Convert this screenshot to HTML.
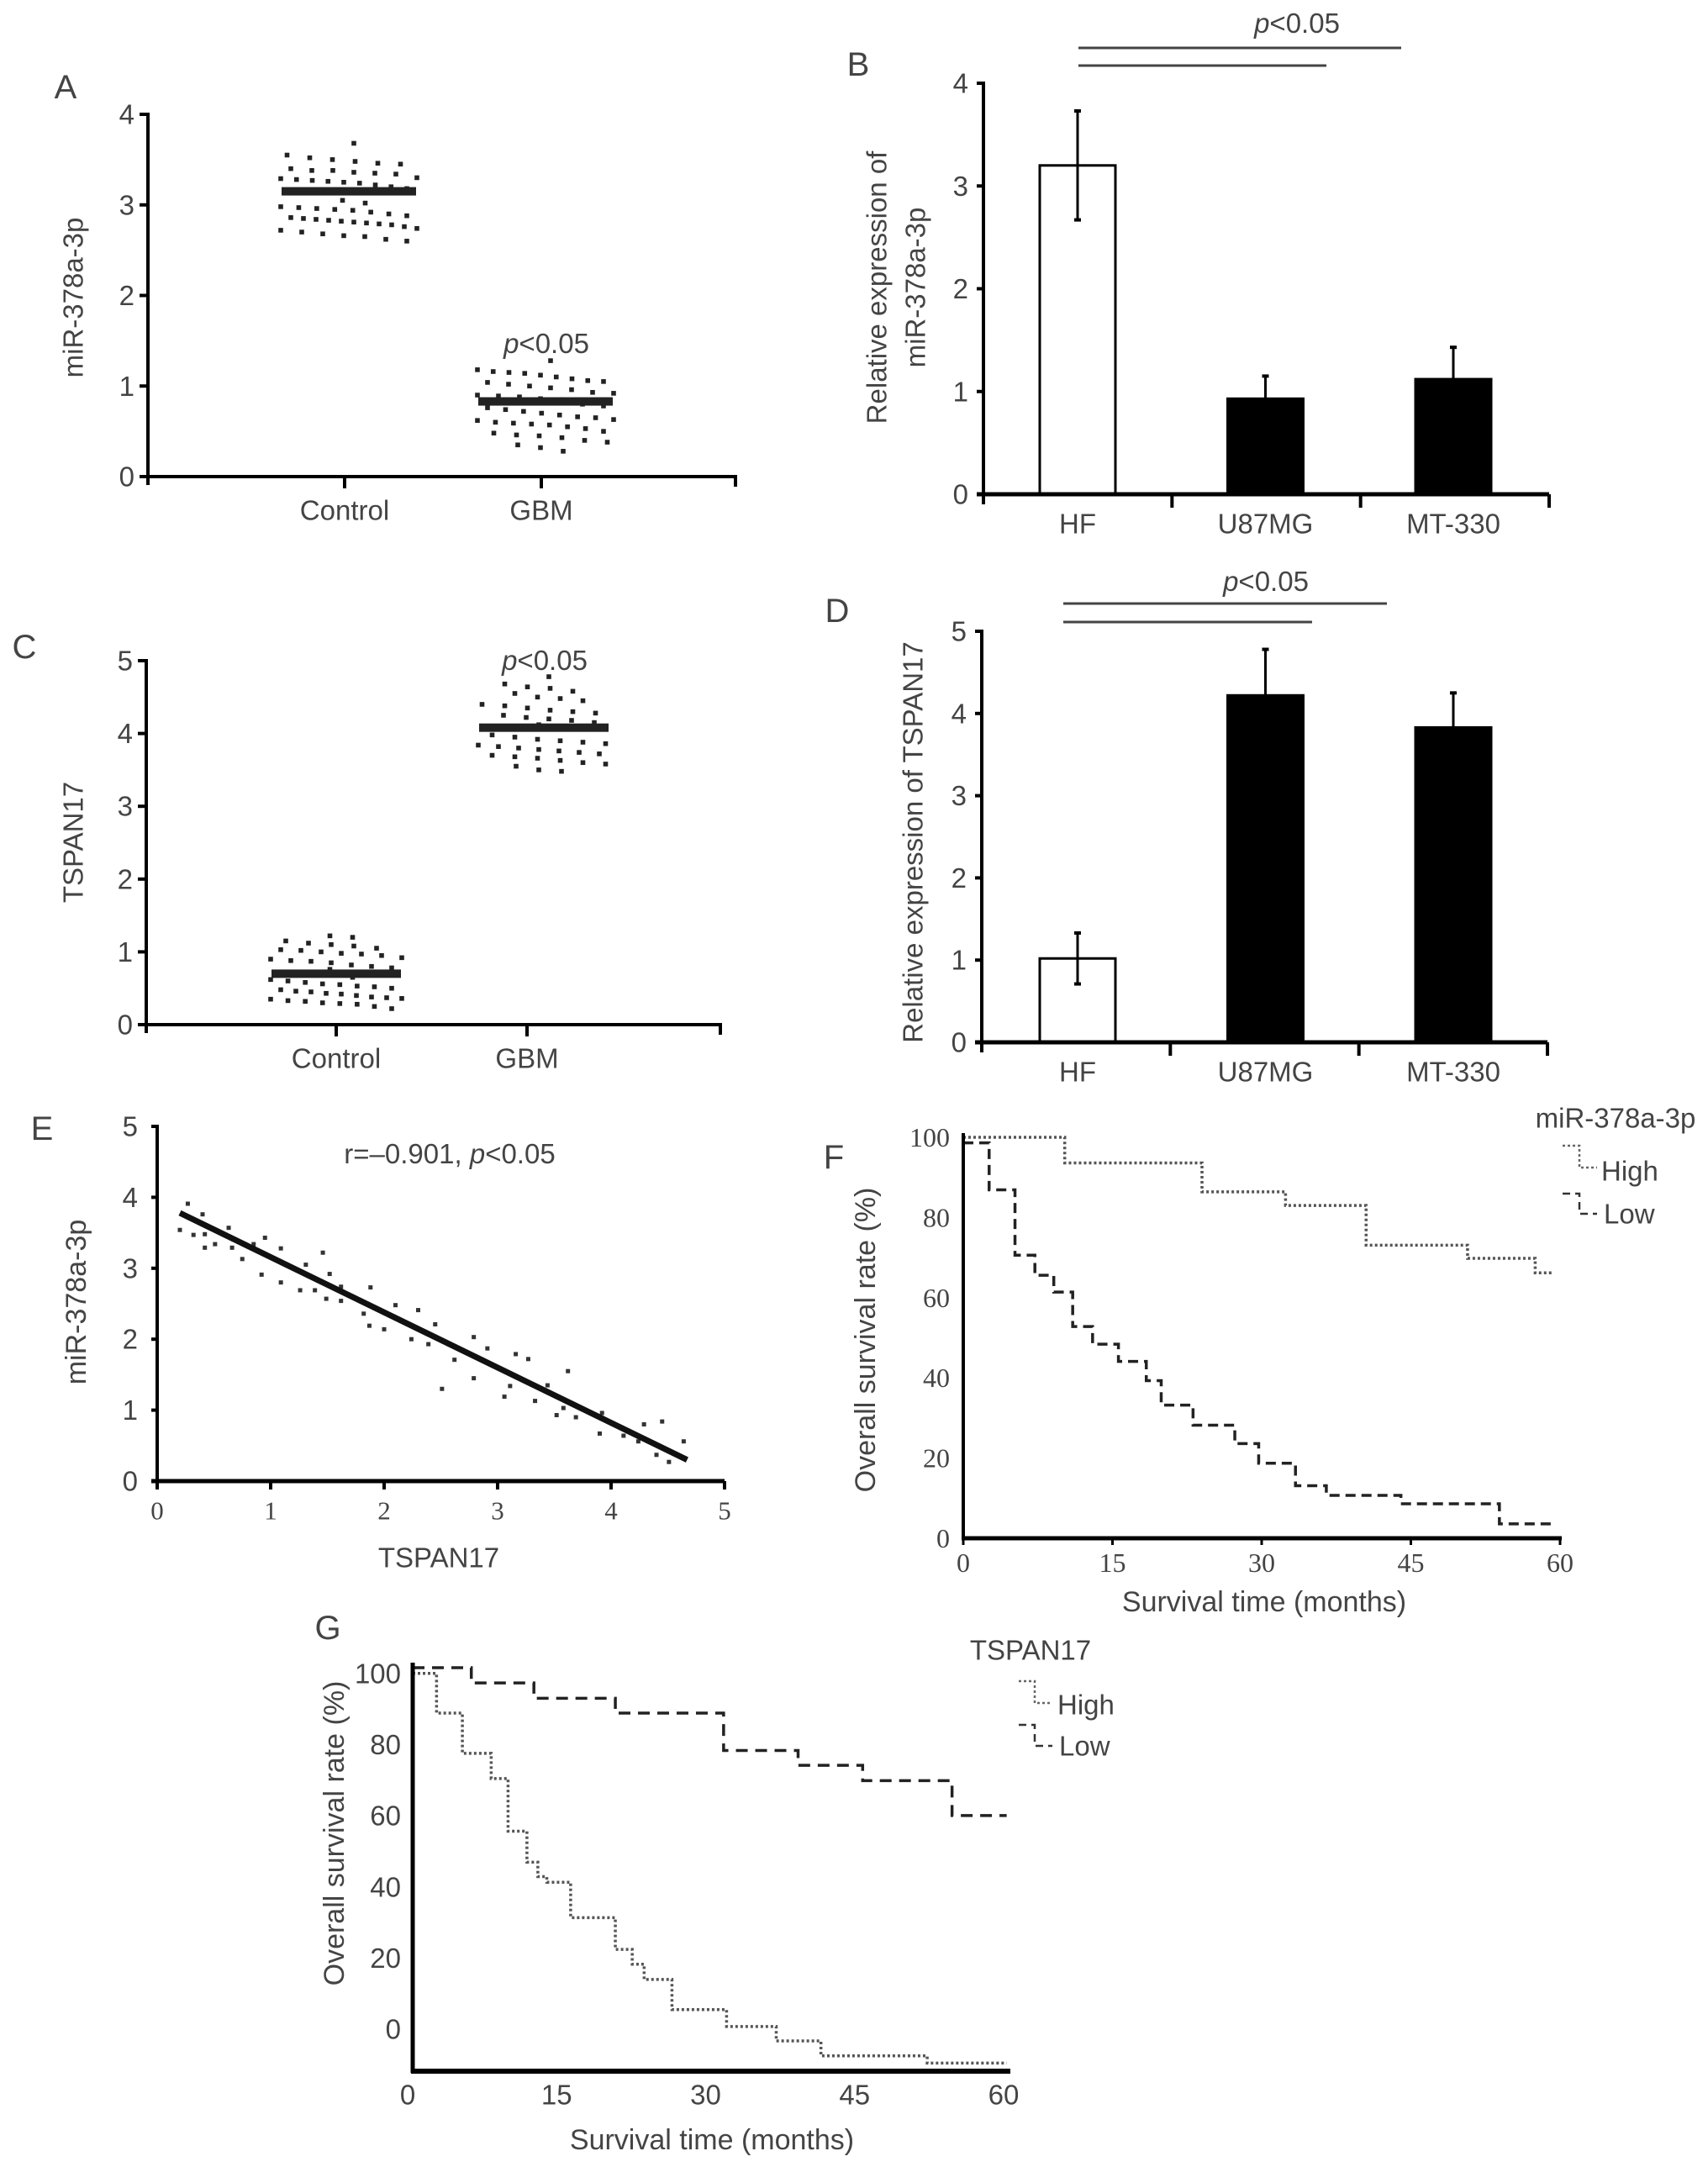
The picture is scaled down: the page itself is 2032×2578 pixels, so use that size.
<!DOCTYPE html>
<html><head><meta charset="utf-8"><title>Figure panels A–G</title>
<style>
html,body{margin:0;padding:0;background:#fff;}
svg{display:block;}
text{font-family:"Liberation Sans",sans-serif;fill:#444;}
.serif{font-family:"Liberation Serif",serif;}
</style></head>
<body>
<svg id="fig" xmlns="http://www.w3.org/2000/svg" width="2032" height="2578" viewBox="0 0 2032 2578"></svg>
<script>
// ---------- DATA ----------
const aCategories = ["Control","GBM"];
const aControl = [3.68,3.55,3.52,3.50,3.48,3.46,3.45,3.40,3.38,3.38,3.36,3.35,3.34,3.30,3.29,3.28,3.27,3.26,3.25,3.24,3.22,3.20,3.18,3.05,3.02,2.98,2.97,2.96,2.95,2.94,2.92,2.90,2.88,2.86,2.85,2.84,2.83,2.82,2.81,2.80,2.79,2.78,2.76,2.74,2.72,2.70,2.68,2.66,2.65,2.62,2.60];
const aGBM = [1.28,1.18,1.16,1.15,1.14,1.12,1.10,1.08,1.06,1.05,1.04,1.02,1.00,0.98,0.96,0.93,0.92,0.90,0.89,0.88,0.86,0.85,0.80,0.78,0.76,0.74,0.72,0.70,0.68,0.66,0.65,0.63,0.62,0.60,0.59,0.58,0.57,0.55,0.53,0.50,0.48,0.46,0.45,0.43,0.40,0.38,0.35,0.32,0.28];
const aMeans = [3.15,0.83];
const aTicks = [0,1,2,3,4];
const bCategories = ["HF","U87MG","MT-330"];
const bValues = [3.2,0.93,1.12];
const bErrors = [0.53,0.22,0.31];
const bTicks = [0,1,2,3,4];
const cControl = [1.22,1.20,1.15,1.12,1.10,1.08,1.05,1.03,1.02,1.00,0.98,0.97,0.95,0.92,0.90,0.88,0.87,0.85,0.82,0.80,0.78,0.76,0.65,0.62,0.60,0.58,0.56,0.55,0.53,0.52,0.50,0.48,0.46,0.45,0.43,0.42,0.40,0.38,0.37,0.36,0.35,0.33,0.32,0.30,0.29,0.28,0.25,0.22];
const cGBM = [4.78,4.68,4.64,4.62,4.58,4.55,4.50,4.48,4.45,4.40,4.38,4.35,4.32,4.30,4.28,4.25,4.22,4.20,4.18,4.15,4.12,3.98,3.95,3.92,3.90,3.88,3.86,3.84,3.82,3.80,3.78,3.76,3.74,3.72,3.70,3.68,3.66,3.63,3.60,3.58,3.55,3.50,3.48];
const cMeans = [0.70,4.08];
const cTicks = [0,1,2,3,4,5];
const dValues = [1.02,4.22,3.83];
const dErrors = [0.31,0.56,0.42];
const dTicks = [0,1,2,3,4,5];
const eX = [0.20,0.27,0.32,0.40,0.42,0.42,0.51,0.63,0.66,0.75,0.85,0.92,0.95,1.09,1.09,1.26,1.31,1.39,1.46,1.49,1.52,1.62,1.62,1.82,1.88,1.87,2.00,2.10,2.24,2.30,2.39,2.45,2.51,2.62,2.79,2.79,2.91,3.06,3.11,3.16,3.27,3.33,3.44,3.52,3.58,3.62,3.69,3.90,3.92,4.11,4.24,4.29,4.40,4.45,4.51,4.64];
const eY = [3.54,3.91,3.47,3.76,3.48,3.29,3.34,3.57,3.29,3.13,3.34,2.91,3.43,3.28,2.80,2.69,3.05,2.69,3.22,2.57,2.92,2.54,2.74,2.36,2.73,2.19,2.14,2.48,2.00,2.41,1.93,2.21,1.30,1.71,2.03,1.45,1.87,1.19,1.34,1.79,1.72,1.13,1.35,0.93,1.03,1.55,0.90,0.67,0.96,0.64,0.56,0.80,0.37,0.84,0.27,0.56];
const eFitX = [0.2,4.67];
const eFitY = [3.78,0.30];
const eTicks = [0,1,2,3,4,5];
const fHighT = [0,10.2,24.0,32.4,40.5,50.7,57.5];
const fHighS = [100,93.6,86.4,83.0,73.1,69.8,66.2];
const fLowT = [0,2.6,5.2,7.2,9.1,11.0,13.0,15.6,18.4,19.9,23.1,27.3,29.7,33.4,36.5,44.0,53.9];
const fLowS = [98.6,86.9,70.6,65.6,61.4,52.8,48.4,44.1,39.3,33.2,28.2,23.6,18.7,13.1,10.7,8.6,3.6];
const fEnd = 59.3;
const fXTicks = [0,15,30,45,60];
const fYTicks = [0,20,40,60,80,100];
const gLowT = [0,5.9,12.2,20.4,31.3,38.8,45.3,54.3];
const gLowS = [100,96.2,92.4,88.7,79.4,75.7,71.9,63.2];
const gHighT = [0,2.4,5.0,7.9,9.6,11.5,12.6,13.5,15.9,20.4,22.1,23.3,26.1,31.6,36.6,41.1,51.8];
const gHighS = [98.6,88.7,78.7,72.4,59.3,51.6,48.0,46.6,37.8,29.9,26.2,22.4,14.9,10.7,7.1,3.4,1.6];
const gEnd = 59.8;
const gXTicks = [0,15,30,45,60];
const gYTickLabels = ["0","20","40","60","80","100"];

// ---------- HELPERS ----------
const NS = "http://www.w3.org/2000/svg";
const svg = document.getElementById('fig');
function mk(tag, attrs, parent){
  const e = document.createElementNS(NS, tag);
  for (const k in attrs) e.setAttribute(k, attrs[k]);
  (parent||svg).appendChild(e);
  return e;
}
function grp(name){
  const g = mk('g', {});
  
  
  return g;
}
function txt(g, s, x, y, size, anchor, extra){
  const t = mk('text', Object.assign({x:x, y:y, 'font-size':size, 'text-anchor':anchor||'middle', 'dominant-baseline':'central'}, extra||{}), g);
  t.textContent = s;
  return t;
}
function line(g, x1,y1,x2,y2, w, col, dash){
  const a = {x1:x1,y1:y1,x2:x2,y2:y2,stroke:col||'#000','stroke-width':w||4};
  if (dash) a['stroke-dasharray']=dash;
  return mk('line', a, g);
}
function lin(d0,d1,r0,r1){ return v => r0 + (v-d0)/(d1-d0)*(r1-r0); }
function pText(g, x, y, size){
  const t = mk('text', {x:x,y:y,'font-size':size,'text-anchor':'middle','dominant-baseline':'central'}, g);
  const ts = mk('tspan', {'font-style':'italic'}, t); ts.textContent='p';
  const t2 = mk('tspan', {}, t); t2.textContent='<0.05';
  return t;
}

// ---------- DOT PLOTS (A, C) ----------
function dotPlot(cfg){
  const g = grp(cfg.name);
  const y = lin(0, cfg.ymax, cfg.y0, cfg.ytop);
  const ax = cfg.axisX;
  const yax = line(g, ax, y(cfg.ymax)-2, ax, cfg.y0+10, 4);
   
  const xax = line(g, ax-10, cfg.y0, cfg.xEnd, cfg.y0, 4);
   
  line(g, cfg.xEnd, cfg.y0-2, cfg.xEnd, cfg.y0+12, 4);
  cfg.ticks.forEach(t => {
    line(g, ax-10, y(t), ax, y(t), 4);
    const l = txt(g, String(t), ax-16, y(t), 33, 'end');
     
  });
  cfg.tickX.forEach((tx,i) => {
    line(g, tx, cfg.y0, tx, cfg.y0+14, 4);
    const l = txt(g, cfg.cats[i], tx, cfg.y0+40, 33);
     
  });
  const yl = txt(g, cfg.ylabel, 0, 0, 33, 'middle', {transform:`translate(${cfg.ylx},${cfg.yly}) rotate(-90)`});
   
  cfg.groups.forEach((vals, gi) => {
    const cx = cfg.centers[gi];
    const bins = {};
    vals.forEach(v => { const b = Math.round(v/0.14); (bins[b]=bins[b]||[]).push(v); });
    Object.keys(bins).forEach((b,bi) => {
      const arr = bins[b];
      const n = arr.length;
      const sp = Math.min(27, (cfg.halfW*2-10)/Math.max(n-1,1));
      arr.forEach((v,i) => {
        const dx = (i-(n-1)/2)*sp + ((bi%2)?6:-6);
        const d = mk('rect', {x:cx+dx-2.8, y:y(v)-2.8, width:5.6, height:5.6, fill:'#222'}, g);
        
        
      });
    });
    const m = mk('rect', {x:cx-cfg.halfW, y:y(cfg.means[gi])-5, width:cfg.halfW*2, height:10, fill:'#222'}, g);
    
    
  });
  return g;
}

const gA = dotPlot({name:'panel-a', ymax:4, y0:567, ytop:136, axisX:176, xEnd:875,
  ticks:aTicks, tickX:[410,644], cats:aCategories, ylabel:'miR-378a-3p', ylx:87, yly:354,
  groups:[aControl,aGBM], centers:[415,649], means:aMeans, halfW:80});
(function(){ const l = txt(gA,'A',78,104,40);  
 const p = pText(gA,650,408,33);   })();

const gC = dotPlot({name:'panel-c', ymax:5, y0:1219, ytop:786, axisX:174, xEnd:857,
  ticks:cTicks, tickX:[400,627], cats:aCategories, ylabel:'TSPAN17', ylx:87, yly:1002,
  groups:[cControl,cGBM], centers:[400,647], means:cMeans, halfW:77});
(function(){ const l = txt(gC,'C',29,770,40);  
 const p = pText(gC,648,785,33);   })();

// ---------- BAR CHARTS (B, D) ----------
function barChart(cfg){
  const g = grp(cfg.name);
  const y = lin(0, cfg.ymax, cfg.y0, cfg.ytop);
  const ax = cfg.axisX;
  const centers = [1282,1505,1729];
  const x = i => centers[0] + i*((centers[2]-centers[0])/2);
  cfg.vals.forEach((v,i) => {
    const cx = x(i);
    const b = mk('rect', {x:cx-45, y:y(v), width:90, height:cfg.y0-y(v), fill: i===0?'#fff':'#000', stroke:'#000','stroke-width':3}, g);
    
    
    const top = y(v+cfg.errs[i]);
    const bot = i===0 ? y(v-cfg.errs[i]) : y(v);
    const e = line(g, cx, top, cx, bot, 3);
     
    line(g, cx-4, top, cx+4, top, 4);
    if (i===0) line(g, cx-4, bot, cx+4, bot, 4);
  });
  const yax = line(g, ax, y(cfg.ymax)-2, ax, cfg.y0+12, 4);
   
  const xax = line(g, ax-8, cfg.y0, cfg.xEnd, cfg.y0, 5);
   
  cfg.ticks.forEach(t => {
    line(g, ax-8, y(t), ax, y(t), 4);
    const l = txt(g, String(t), ax-18, y(t), 33, 'end');
     
  });
  const step = (cfg.xEnd-ax)/3;
  for (let k=1;k<=3;k++) line(g, ax+k*step, cfg.y0, ax+k*step, cfg.y0+16, 4);
  bCategories.forEach((c,i) => {
    const l = txt(g, c, x(i), cfg.y0+35, 33);
     
  });
  cfg.ylabels.forEach((s,k) => {
    const l = txt(g, s, 0, 0, 33, 'middle', {transform:`translate(${cfg.ylx[k]},${cfg.yly}) rotate(-90)`});
     
  });
  const s1 = line(g, cfg.br[0], cfg.br[1], cfg.br[2], cfg.br[1], 3, '#444');
   
  const s2 = line(g, cfg.br[0], cfg.br[3], cfg.br[4], cfg.br[3], 3, '#444');
   
  const p = pText(g, cfg.px, cfg.py, 33);  
  const l = txt(g, cfg.letter, cfg.lx, cfg.ly, 40);  
}
barChart({name:'panel-b', ymax:4, y0:588, ytop:99, axisX:1170, xEnd:1843, vals:bValues, errs:bErrors, ticks:bTicks,
  ylabels:['Relative expression of','miR-378a-3p'], ylx:[1043,1089], yly:342,
  br:[1283,57,1667,78,1578], px:1543, py:27, letter:'B', lx:1021, ly:77});
barChart({name:'panel-d', ymax:5, y0:1240, ytop:751, axisX:1168, xEnd:1841, vals:dValues, errs:dErrors, ticks:dTicks,
  ylabels:['Relative expression of TSPAN17'], ylx:[1086], yly:1002,
  br:[1265,718,1650,740,1561], px:1506, py:691, letter:'D', lx:996, ly:727});

// ---------- PANEL E ----------
(function(){
  const g = grp('panel-e');
  const x = lin(0,5,187,862), y = lin(0,5,1762,1340);
  eX.forEach((v,i) => {
    const d = mk('rect', {x:x(v)-2.5, y:y(eY[i])-2.5, width:5, height:5, fill:'#333'}, g);
    
    
  });
  const f = line(g, x(eFitX[0]), y(eFitY[0]), x(eFitX[1]), y(eFitY[1]), 7, '#111');
   
  const ya = line(g, 187, 1338, 187, 1766, 4);  
  const xa = line(g, 180, 1762, 862, 1762, 5);  
  eTicks.forEach(t => {
    line(g, 180, y(t), 187, y(t), 4);
    const l = txt(g, String(t), 164, y(t), 33, 'end');  
    line(g, x(t), 1762, x(t), 1772, 4);
    const k = txt(g, String(t), x(t), 1797, 31, 'middle', {'class':'serif'});  
  });
  const tt = mk('text', {x:535,y:1372,'font-size':33,'text-anchor':'middle','dominant-baseline':'central'}, g);
   
  const a1 = mk('tspan',{},tt); a1.textContent='r=\u20130.901, ';
  const a2 = mk('tspan',{'font-style':'italic'},tt); a2.textContent='p';
  const a3 = mk('tspan',{},tt); a3.textContent='<0.05';
  const xl = txt(g,'TSPAN17',522,1853,33);  
  const yl = txt(g,'miR-378a-3p',0,0,34,'middle',{transform:'translate(91,1549) rotate(-90)'});  
  const l = txt(g,'E',50,1343,40);  
})();

function stepPath(T, S, end, x, y){
  let d = `M${x(T[0])},${y(S[0])}`;
  for (let i=1;i<T.length;i++) d += ` H${x(T[i])} V${y(S[i])}`;
  d += ` H${x(end)}`;
  return d;
}

// ---------- PANEL F ----------
(function(){
  const g = grp('panel-f');
  const x = lin(0,60,1146,1856), y = lin(0,100,1830,1353);
  const hi = mk('path', {d:stepPath(fHighT,fHighS,fEnd,x,y), fill:'none', stroke:'#555','stroke-width':3.5,'stroke-dasharray':'3 3'}, g);
   
  const lo = mk('path', {d:stepPath(fLowT,fLowS,fEnd,x,y), fill:'none', stroke:'#222','stroke-width':3.5,'stroke-dasharray':'12 7'}, g);
   
  const ya = line(g, 1146, 1348, 1146, 1832, 4);  
  const xa = line(g, 1144, 1830, 1858, 1830, 5);  
  fXTicks.forEach(t => {
    line(g, x(t), 1830, x(t), 1838, 3);
    const k = txt(g, String(t), x(t), 1859, 32, 'middle', {'class':'serif'});  
  });
  fYTicks.forEach(t => {
    const k = txt(g, String(t), 1130, y(t), 32, 'end', {'class':'serif'});  
  });
  const xl = txt(g,'Survival time (months)',1504,1906,34);  
  const yl = txt(g,'Overall survival rate (%)',0,0,34,'middle',{transform:'translate(1030,1594) rotate(-90)'});  
  const lt = txt(g,'miR-378a-3p',1922,1330,33);  
  const s1 = mk('path',{d:'M1859,1363 H1879 V1389 H1900',fill:'none',stroke:'#666','stroke-width':2.5,'stroke-dasharray':'3 3'},g);
   
  const h = txt(g,'High',1905,1393,33,'start');  
  const s2 = mk('path',{d:'M1859,1420 H1879 V1444 H1900',fill:'none',stroke:'#333','stroke-width':2.5,'stroke-dasharray':'9 6'},g);
   
  const lw = txt(g,'Low',1908,1444,33,'start');  
  const l = txt(g,'F',992,1377,40);  
})();

// ---------- PANEL G ----------
(function(){
  const g = grp('panel-g');
  const x = lin(0,60,491,1200), y = lin(0,100,2462,1984);
  const yTickPos = lin(0,100,2414,1991);
  const lo = mk('path', {d:stepPath(gLowT,gLowS,gEnd,x,y), fill:'none', stroke:'#222','stroke-width':3.5,'stroke-dasharray':'14 9'}, g);
   
  const hi = mk('path', {d:stepPath(gHighT,gHighS,gEnd,x,y), fill:'none', stroke:'#555','stroke-width':3.5,'stroke-dasharray':'3 3'}, g);
   
  const ya = line(g, 491, 1978, 491, 2466, 5);  
  const xa = line(g, 489, 2464, 1202, 2464, 6);  
  gXTicks.forEach(t => {
    const k = txt(g, String(t), x(t)-6, 2492, 33);  
  });
  gYTickLabels.forEach((s,i) => {
    const k = txt(g, s, 477, yTickPos(i*20), 33, 'end');  
  });
  const xl = txt(g,'Survival time (months)',847,2546,34);  
  const yl = txt(g,'Overall survival rate (%)',0,0,34,'middle',{transform:'translate(398,2181) rotate(-90)'});  
  const lt = txt(g,'TSPAN17',1226,1963,33);  
  const s1 = mk('path',{d:'M1212,2000 H1231 V2026 H1252',fill:'none',stroke:'#666','stroke-width':2.5,'stroke-dasharray':'3 3'},g);
   
  const h = txt(g,'High',1258,2028,33,'start');  
  const s2 = mk('path',{d:'M1212,2052 H1231 V2077 H1252',fill:'none',stroke:'#333','stroke-width':2.5,'stroke-dasharray':'9 6'},g);
   
  const lw = txt(g,'Low',1260,2077,33,'start');  
  const l = txt(g,'G',390,1937,40);  
})();
</script>
</body></html>
